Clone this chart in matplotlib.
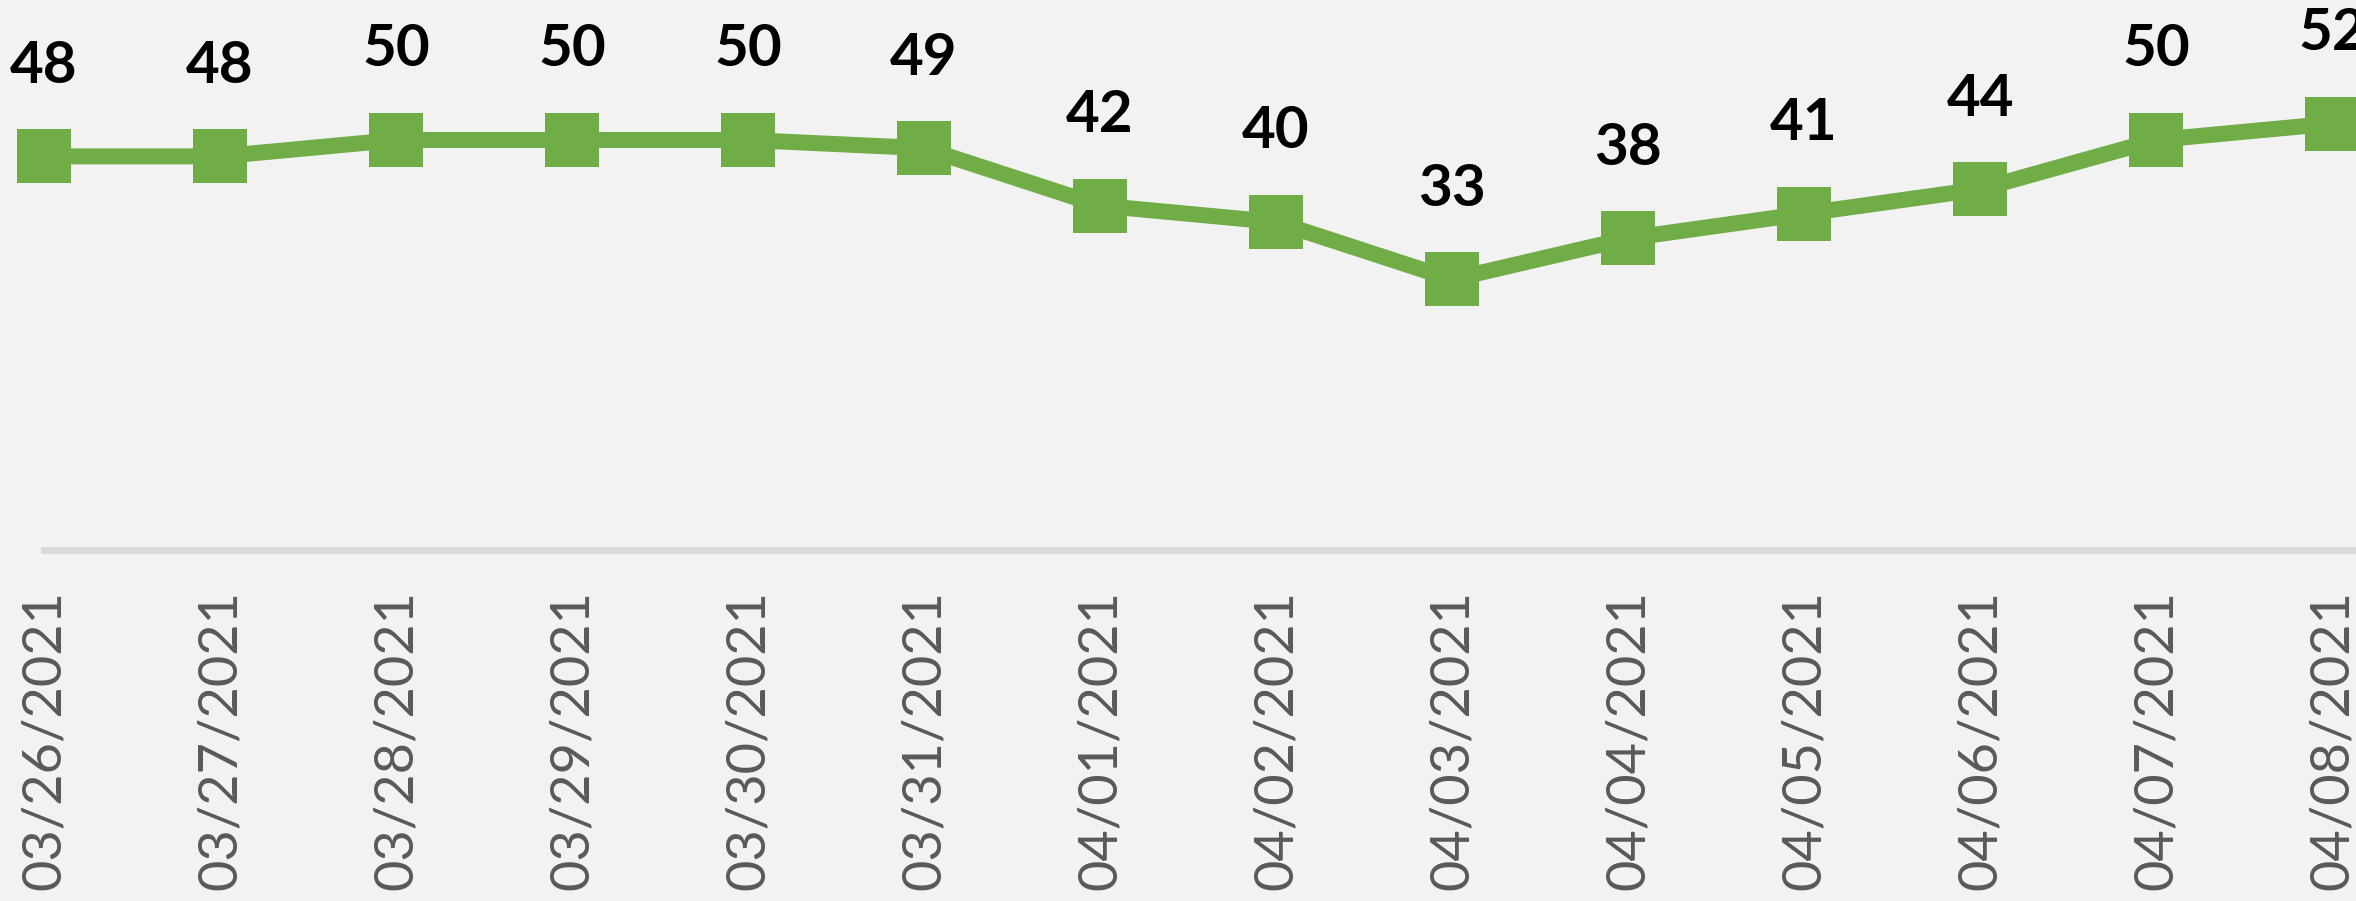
import matplotlib
matplotlib.use("Agg")
import matplotlib.pyplot as plt

# data
dates = ["03/26/2021", "03/27/2021", "03/28/2021", "03/29/2021", "03/30/2021",
         "03/31/2021", "04/01/2021", "04/02/2021", "04/03/2021", "04/04/2021",
         "04/05/2021", "04/06/2021", "04/07/2021", "04/08/2021"]
values = [48, 48, 50, 50, 50, 49, 42, 40, 33, 38, 41, 44, 50, 52]

plt.rcParams['font.family'] = ['Lato', 'DejaVu Sans']

bg = "#f2f2f2"
green = "#70ad47"

fig = plt.figure(figsize=(23.56, 9.01), dpi=100, facecolor=bg)
ax = fig.add_axes([0, 0.3896, 1, 0.6104], facecolor=bg)

x = list(range(len(values)))
ax.plot(x, values, color=green, linewidth=11.5, marker="s", markersize=39,
        markeredgewidth=0, solid_joinstyle="miter", zorder=3)

for xi, v in zip(x, values):
    ax.annotate(str(v), (xi, v), xytext=(0, 53), textcoords="offset points",
                ha="center", va="baseline", fontsize=42, fontweight="bold",
                color="black", annotation_clip=False)

# plot area limits, first point sits 44 px from the left edge
xmin, xmax = -0.25, len(values) - 1 + 0.136
ax.set_xlim(xmin, xmax)
ax.set_ylim(0, 67.07)

# category axis line starts at the first point
ax.axhline(0, xmin=(0 - xmin) / (xmax - xmin), xmax=1, color="#d9d9d9",
           linewidth=5, zorder=1, clip_on=False)

for s in ax.spines.values():
    s.set_visible(False)
ax.set_yticks([])
ax.set_xticks(x)
ax.set_xticklabels(dates, rotation=90, fontsize=39, color="#595959")
ax.tick_params(axis="x", length=0, pad=29)

fig.savefig("out.png", dpi=100, facecolor=bg)
